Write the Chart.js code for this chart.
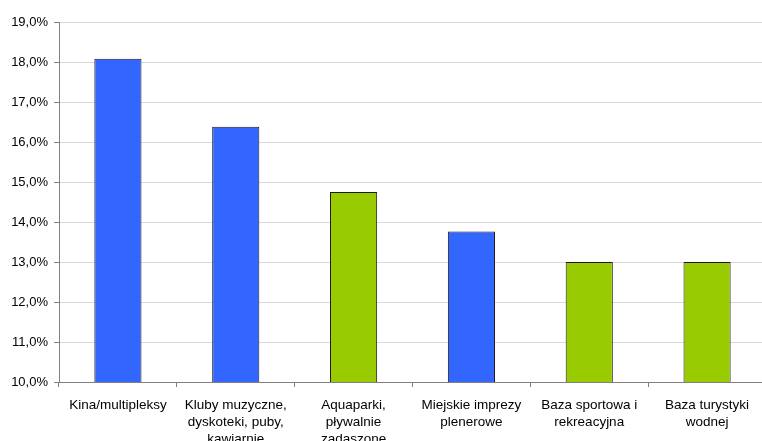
<!DOCTYPE html>
<html>
<head>
<meta charset="utf-8">
<script src="https://cdn.jsdelivr.net/npm/chart.js@4/dist/chart.umd.min.js"></script>
<style>
  html, body { margin: 0; padding: 0; background: #fff; overflow: hidden; }
  #wrap { width: 766px; height: 441px; position: relative; }
</style>
</head>
<body>
<div id="wrap"><canvas id="chart"></canvas></div>
<script>
// Chart data
const categories = [
  ['Kina/multipleksy'],
  ['Kluby muzyczne,', 'dyskoteki, puby,', 'kawiarnie'],
  ['Aquaparki,', 'pływalnie', 'zadaszone'],
  ['Miejskie imprezy', 'plenerowe'],
  ['Baza sportowa i', 'rekreacyjna'],
  ['Baza turystyki', 'wodnej']
];
const shares = [18.08, 16.38, 14.75, 13.76, 13.0, 13.0];
const barColors = ['#3366FF', '#3366FF', '#99CC00', '#3366FF', '#99CC00', '#99CC00'];
const yMin = 10;
const yMax = 19;

const family = 'Liberation Sans, Arial, sans-serif';

const ctx = document.getElementById('chart').getContext('2d');
new Chart(ctx, {
  type: 'bar',
  data: {
    labels: categories,
    datasets: [{
      data: shares,
      backgroundColor: barColors,
      borderColor: '#1a1a1a',
      borderWidth: 1,
      barPercentage: 0.4,
      categoryPercentage: 1.0
    }]
  },
  options: {
    responsive: true,
    maintainAspectRatio: false,
    animation: false,
    layout: { padding: { top: 22, right: 0, left: 0, bottom: 0 } },
    plugins: {
      legend: { display: false },
      tooltip: { enabled: false }
    },
    scales: {
      x: {
        grid: {
          offset: true,
          drawOnChartArea: false,
          tickLength: 5,
          tickColor: '#808080'
        },
        border: { color: '#808080', width: 1 },
        ticks: {
          color: '#000',
          font: { family: family, size: 13.5, lineHeight: 1.26 },
          maxRotation: 0,
          autoSkip: false,
          padding: 10
        },
        afterFit: scale => { scale.height = 59; }
      },
      y: {
        min: yMin,
        max: yMax,
        grid: {
          color: '#d9d9d9',
          tickColor: '#808080',
          tickLength: 5
        },
        border: { color: '#808080', width: 1 },
        ticks: {
          stepSize: 1,
          color: '#000',
          font: { family: family, size: 13 },
          padding: 6,
          callback: v => v.toFixed(1).replace('.', ',') + '%'
        },
        afterFit: scale => { scale.width = 59; }
      }
    }
  }
});
</script>
</body>
</html>
